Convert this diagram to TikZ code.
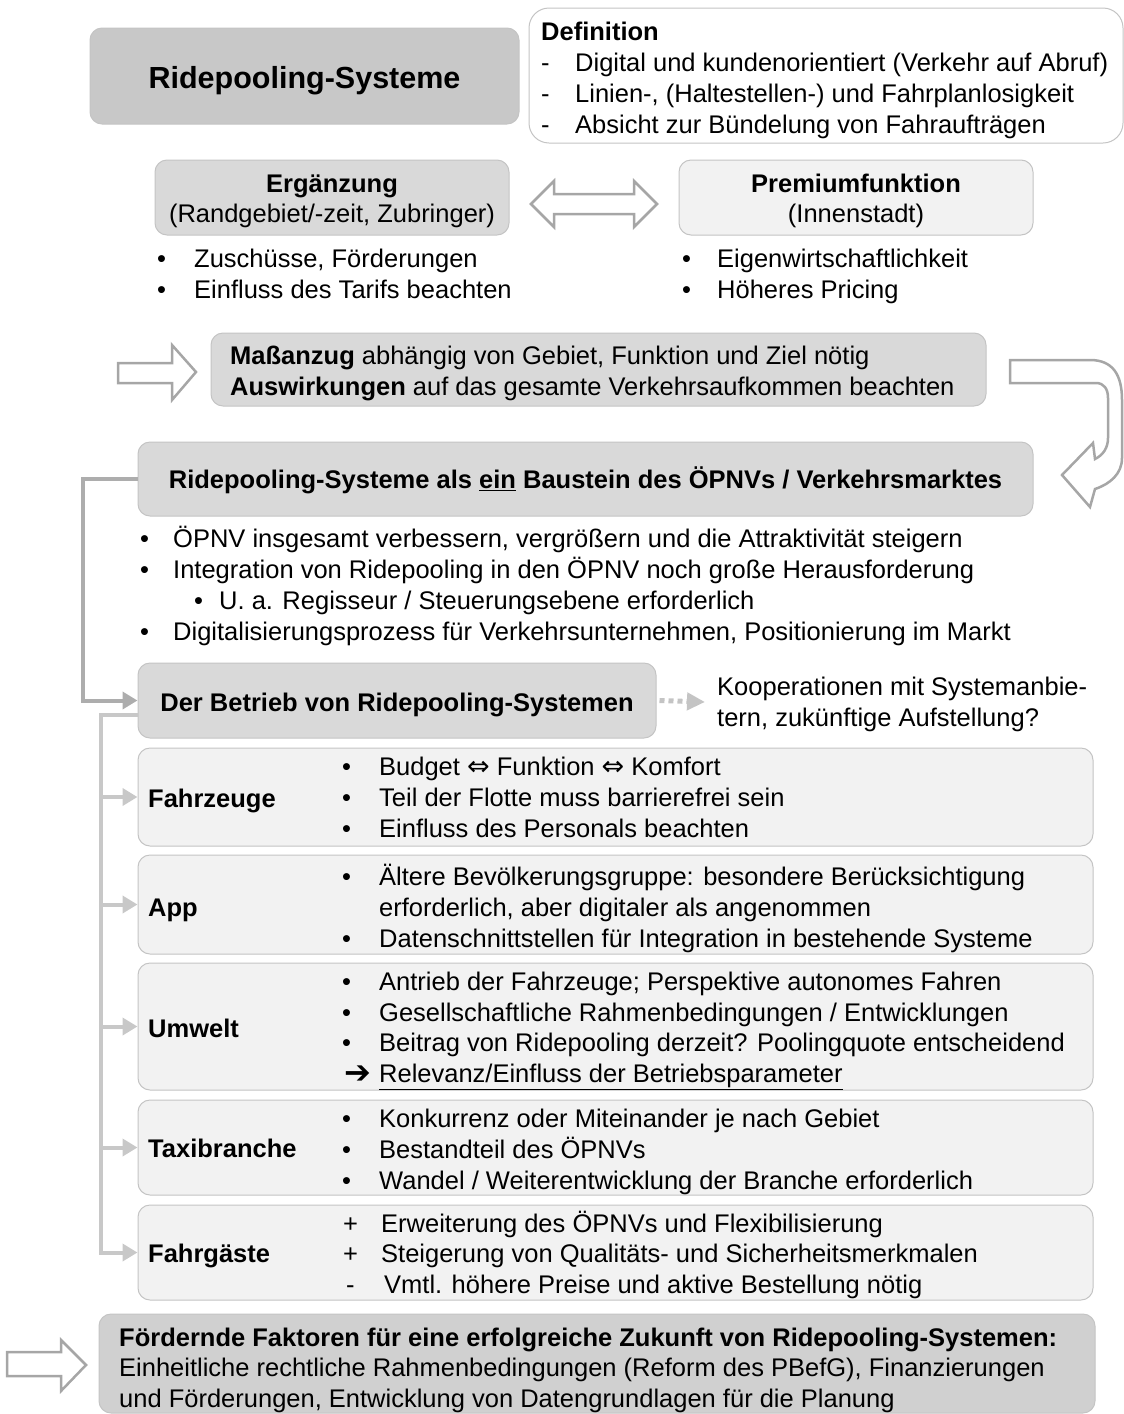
\documentclass[tikz,border=0pt]{standalone}
\usepackage{fontspec}
\setmainfont{Liberation Sans}
\newfontfamily\symfont{DejaVu Sans}
\usetikzlibrary{calc,arrows.meta}
\definecolor{titlefill}{HTML}{C8C8C8}
\definecolor{midfill}{HTML}{D9D9D9}
\definecolor{lightfill}{HTML}{F2F2F2}
\definecolor{bottomfill}{HTML}{D0D0D0}
\definecolor{boxline}{HTML}{C4C4C4}
\definecolor{arrowline}{HTML}{A6A6A6}
\definecolor{conndark}{HTML}{ADADAD}
\definecolor{connlight}{HTML}{C8C8C8}
\newcommand\normtext{\fontsize{25.5}{31}\selectfont}
\newcommand\bigtext{\fontsize{30.5}{36}\selectfont}
\newcommand\dblarrow{{\symfont\fontsize{27}{27}\selectfont ⇔}}

\begin{document}
\begin{tikzpicture}[x=1pt, y=-1pt,
	every node/.style={font=\normtext},
	box/.style={draw=boxline, line width=1pt, rounded corners=12pt, inner sep=0pt},
	txt/.style={anchor=west, inner sep=0pt, text height=0.72em, text depth=0pt, yshift=-6pt},
	ctxt/.style={txt, anchor=center},
	blockarrow/.style={draw=arrowline, line width=2.5pt, fill=white, line join=miter},
	conn/.style={draw=conndark, line width=4pt, -{Triangle[length=15pt,width=17pt]}},
	connb/.style={draw=connlight, line width=4pt, -{Triangle[length=15pt,width=17pt]}},
	dotconn/.style={draw=boxline, line width=5pt, dash pattern=on 5pt off 4pt, -{Triangle[length=18pt,width=17pt]}}]
	%%%%% START %%%%%
	
	\useasboundingbox (0,0) rectangle (1124,1414);
	
	% top
	\node[box, fill=titlefill, minimum width=429pt, minimum height=96pt, font=\bigtext\bfseries, text height=24pt, text depth=0pt] (title) at (304.5,76) {Ridepooling-Systeme};
	\node[box, fill=white, rounded corners=20pt, minimum width=594pt, minimum height=135pt] (defbox) at (826,75.5) {};
	\node[txt] (deftitle) at (541,31) {\textbf{Definition}};
	\node[txt] (defdash1) at (541,62) {-};
	\node[txt] (defline1) at (575,62) {Digital und kundenorientiert (Verkehr auf Abruf)};
	\node[txt] (defdash2) at (541,93) {-};
	\node[txt] (defline2) at (575,93) {Linien-, (Haltestellen-) und Fahrplanlosigkeit};
	\node[txt] (defdash3) at (541,124) {-};
	\node[txt] (defline3) at (575,124) {Absicht zur Bündelung von Fahraufträgen};
	
	% functions
	\node[box, fill=midfill, minimum width=354pt, minimum height=75pt] (erg) at (332,197.5) {};
	\node[ctxt] (ergtitle) at (332,183) {\textbf{Ergänzung}};
	\node[ctxt] (ergsub) at (332,213) {(Randgebiet/-zeit, Zubringer)};
	\node[box, fill=lightfill, minimum width=354pt, minimum height=75pt] (prem) at (856,197.5) {};
	\node[ctxt] (premtitle) at (856,183) {\textbf{Premiumfunktion}};
	\node[ctxt] (premsub) at (856,213) {(Innenstadt)};
	\draw[blockarrow] (531,204) -- (554,181) -- (554,194) -- (634,194) -- (634,181) -- (657,204)
		-- (634,227) -- (634,214) -- (554,214) -- (554,227) -- cycle;
	\node[txt] (ergdot1) at (157,258) {•};
	\node[txt] (ergline1) at (194,258) {Zuschüsse, Förderungen};
	\node[txt] (ergdot2) at (157,289) {•};
	\node[txt] (ergline2) at (194,289) {Einfluss des Tarifs beachten};
	\node[txt] (premdot1) at (682,258) {•};
	\node[txt] (premline1) at (717,258) {Eigenwirtschaftlichkeit};
	\node[txt] (premdot2) at (682,289) {•};
	\node[txt] (premline2) at (717,289) {Höheres Pricing};
	
	% tailoring
	\draw[blockarrow] (118,363) -- (172,363) -- (172,345) -- (196,372) -- (172,400) -- (172,383) -- (118,383) -- cycle;
	\node[box, fill=midfill, minimum width=775pt, minimum height=73pt] (mass) at (598.5,369.5) {};
	\node[txt] (massline1) at (230,355) {\textbf{Maßanzug} abhängig von Gebiet, Funktion und Ziel nötig};
	\node[txt] (massline2) at (230,386) {\textbf{Auswirkungen} auf das gesamte Verkehrsaufkommen beachten};
	\draw[blockarrow] (1010,360) -- (1090,360) .. controls (1113,360) and (1122,375) .. (1122,400)
		-- (1122,458) .. controls (1122,474) and (1110,484) .. (1095,489) -- (1090,507) -- (1062,475)
		-- (1093,443) -- (1095,459) .. controls (1103,455) and (1108,448) .. (1108,438)
		-- (1108,398) .. controls (1108,389) and (1104,383) .. (1096,383) -- (1010,383) -- cycle;
	
	% building block
	\node[box, fill=midfill, minimum width=895pt, minimum height=74pt, font=\normtext\bfseries, text height=19pt, text depth=0pt] (baustein) at (585.5,479) {Ridepooling-Systeme als \underline{ein} Baustein des ÖPNVs / Verkehrsmarktes};
	\node[txt] (bdot1) at (140,538) {•};
	\node[txt] (bline1) at (173,538) {ÖPNV insgesamt verbessern, vergrößern und die Attraktivität steigern};
	\node[txt] (bdot2) at (140,569) {•};
	\node[txt] (bline2) at (173,569) {Integration von Ridepooling in den ÖPNV noch große Herausforderung};
	\node[txt] (bdot3) at (194,600) {•};
	\node[txt] (bline3) at (219,600) {U. a. Regisseur / Steuerungsebene erforderlich};
	\node[txt] (bdot4) at (140,631) {•};
	\node[txt] (bline4) at (173,631) {Digitalisierungsprozess für Verkehrsunternehmen, Positionierung im Markt};
	
	% operation
	\node[box, fill=midfill, minimum width=518pt, minimum height=75pt, font=\normtext\bfseries, text height=21pt, text depth=0pt] (betrieb) at (397,700.5) {Der Betrieb von Ridepooling-Systemen};
	\node[anchor=west, inner sep=0pt, align=left] (koop) at (717,704) {Kooperationen mit Systemanbie-\\tern, zukünftige Aufstellung?};
	\draw[dotconn] ($(betrieb.east)+(3,0)$) -- ($(koop.west)+(-12,-2)$);
	\draw[conn] (baustein.west) -- ++(-55,0) |- (betrieb.west);
	
	% categories
	\node[box, fill=lightfill, minimum width=955pt, minimum height=98pt] (fahrzeuge) at (615.5,797) {};
	\node[box, fill=lightfill, minimum width=955pt, minimum height=99pt] (app) at (615.5,904.5) {};
	\node[box, fill=lightfill, minimum width=955pt, minimum height=127pt] (umwelt) at (615.5,1026.5) {};
	\node[box, fill=lightfill, minimum width=955pt, minimum height=95pt] (taxi) at (615.5,1147.5) {};
	\node[box, fill=lightfill, minimum width=955pt, minimum height=95pt] (fahrgaeste) at (615.5,1252.5) {};
	
	\coordinate (trunk) at ($(betrieb.west)+(0,14)$);
	\draw[connb] (trunk) -- ++(-37,0) coordinate (trunkbend) |- (fahrgaeste.west);
	\draw[connb] (trunkbend |- fahrzeuge.west) -- (fahrzeuge.west);
	\draw[connb] (trunkbend |- app.west) -- (app.west);
	\draw[connb] (trunkbend |- umwelt.west) -- (umwelt.west);
	\draw[connb] (trunkbend |- taxi.west) -- (taxi.west);
	
	\node[txt] (fzlabel) at (148,798) {\textbf{Fahrzeuge}};
	\node[txt] (fzdot1) at (342,766) {•};
	\node[txt] (fzline1) at (379,766) {Budget \dblarrow{} Funktion \dblarrow{} Komfort};
	\node[txt] (fzdot2) at (342,797) {•};
	\node[txt] (fzline2) at (379,797) {Teil der Flotte muss barrierefrei sein};
	\node[txt] (fzdot3) at (342,828) {•};
	\node[txt] (fzline3) at (379,828) {Einfluss des Personals beachten};
	
	\node[txt] (applabel) at (148,907) {\textbf{App}};
	\node[txt] (appdot1) at (342,876) {•};
	\node[txt] (appline1) at (379,876) {Ältere Bevölkerungsgruppe: besondere Berücksichtigung};
	\node[txt] (appline2) at (379,907) {erforderlich, aber digitaler als angenommen};
	\node[txt] (appdot3) at (342,938) {•};
	\node[txt] (appline3) at (379,938) {Datenschnittstellen für Integration in bestehende Systeme};
	
	\node[txt] (uwlabel) at (148,1028) {\textbf{Umwelt}};
	\node[txt] (uwdot1) at (342,981) {•};
	\node[txt] (uwline1) at (379,981) {Antrieb der Fahrzeuge; Perspektive autonomes Fahren};
	\node[txt] (uwdot2) at (342,1012) {•};
	\node[txt] (uwline2) at (379,1012) {Gesellschaftliche Rahmenbedingungen / Entwicklungen};
	\node[txt] (uwdot3) at (342,1042) {•};
	\node[txt] (uwline3) at (379,1042) {Beitrag von Ridepooling derzeit? Poolingquote entscheidend};
	\node[txt, font=\symfont\fontsize{32}{32}\selectfont, yshift=-1pt] (uwarrow) at (344,1073) {➔};
	\node[txt] (uwline4) at (379,1073) {\underline{Relevanz/Einfluss der Betriebsparameter}};
	
	\node[txt] (taxilabel) at (148,1148) {\textbf{Taxibranche}};
	\node[txt] (taxidot1) at (342,1118) {•};
	\node[txt] (taxiline1) at (379,1118) {Konkurrenz oder Miteinander je nach Gebiet};
	\node[txt] (taxidot2) at (342,1149) {•};
	\node[txt] (taxiline2) at (379,1149) {Bestandteil des ÖPNVs};
	\node[txt] (taxidot3) at (342,1180) {•};
	\node[txt] (taxiline3) at (379,1180) {Wandel / Weiterentwicklung der Branche erforderlich};
	
	\node[txt] (fglabel) at (148,1253) {\textbf{Fahrgäste}};
	\node[txt] (fgplus1) at (343,1223) {+};
	\node[txt] (fgline1) at (381,1223) {Erweiterung des ÖPNVs und Flexibilisierung};
	\node[txt] (fgplus2) at (343,1253) {+};
	\node[txt] (fgline2) at (381,1253) {Steigerung von Qualitäts- und Sicherheitsmerkmalen};
	\node[txt] (fgminus) at (346,1284) {-};
	\node[txt] (fgline3) at (384,1284) {Vmtl. höhere Preise und aktive Bestellung nötig};
	
	% outlook
	\draw[blockarrow] (7,1352) -- (61,1352) -- (61,1340) -- (86,1365) -- (61,1391) -- (61,1376) -- (7,1376) -- cycle;
	\node[box, fill=bottomfill, minimum width=996pt, minimum height=99pt] (zukunft) at (597,1363.5) {};
	\node[txt] (zkline1) at (119,1337) {\textbf{Fördernde Faktoren für eine erfolgreiche Zukunft von Ridepooling-Systemen:}};
	\node[txt] (zkline2) at (119,1367) {Einheitliche rechtliche Rahmenbedingungen (Reform des PBefG), Finanzierungen};
	\node[txt] (zkline3) at (119,1398) {und Förderungen, Entwicklung von Datengrundlagen für die Planung};
	
	%%%%% END %%%%%
\end{tikzpicture}
\end{document}
